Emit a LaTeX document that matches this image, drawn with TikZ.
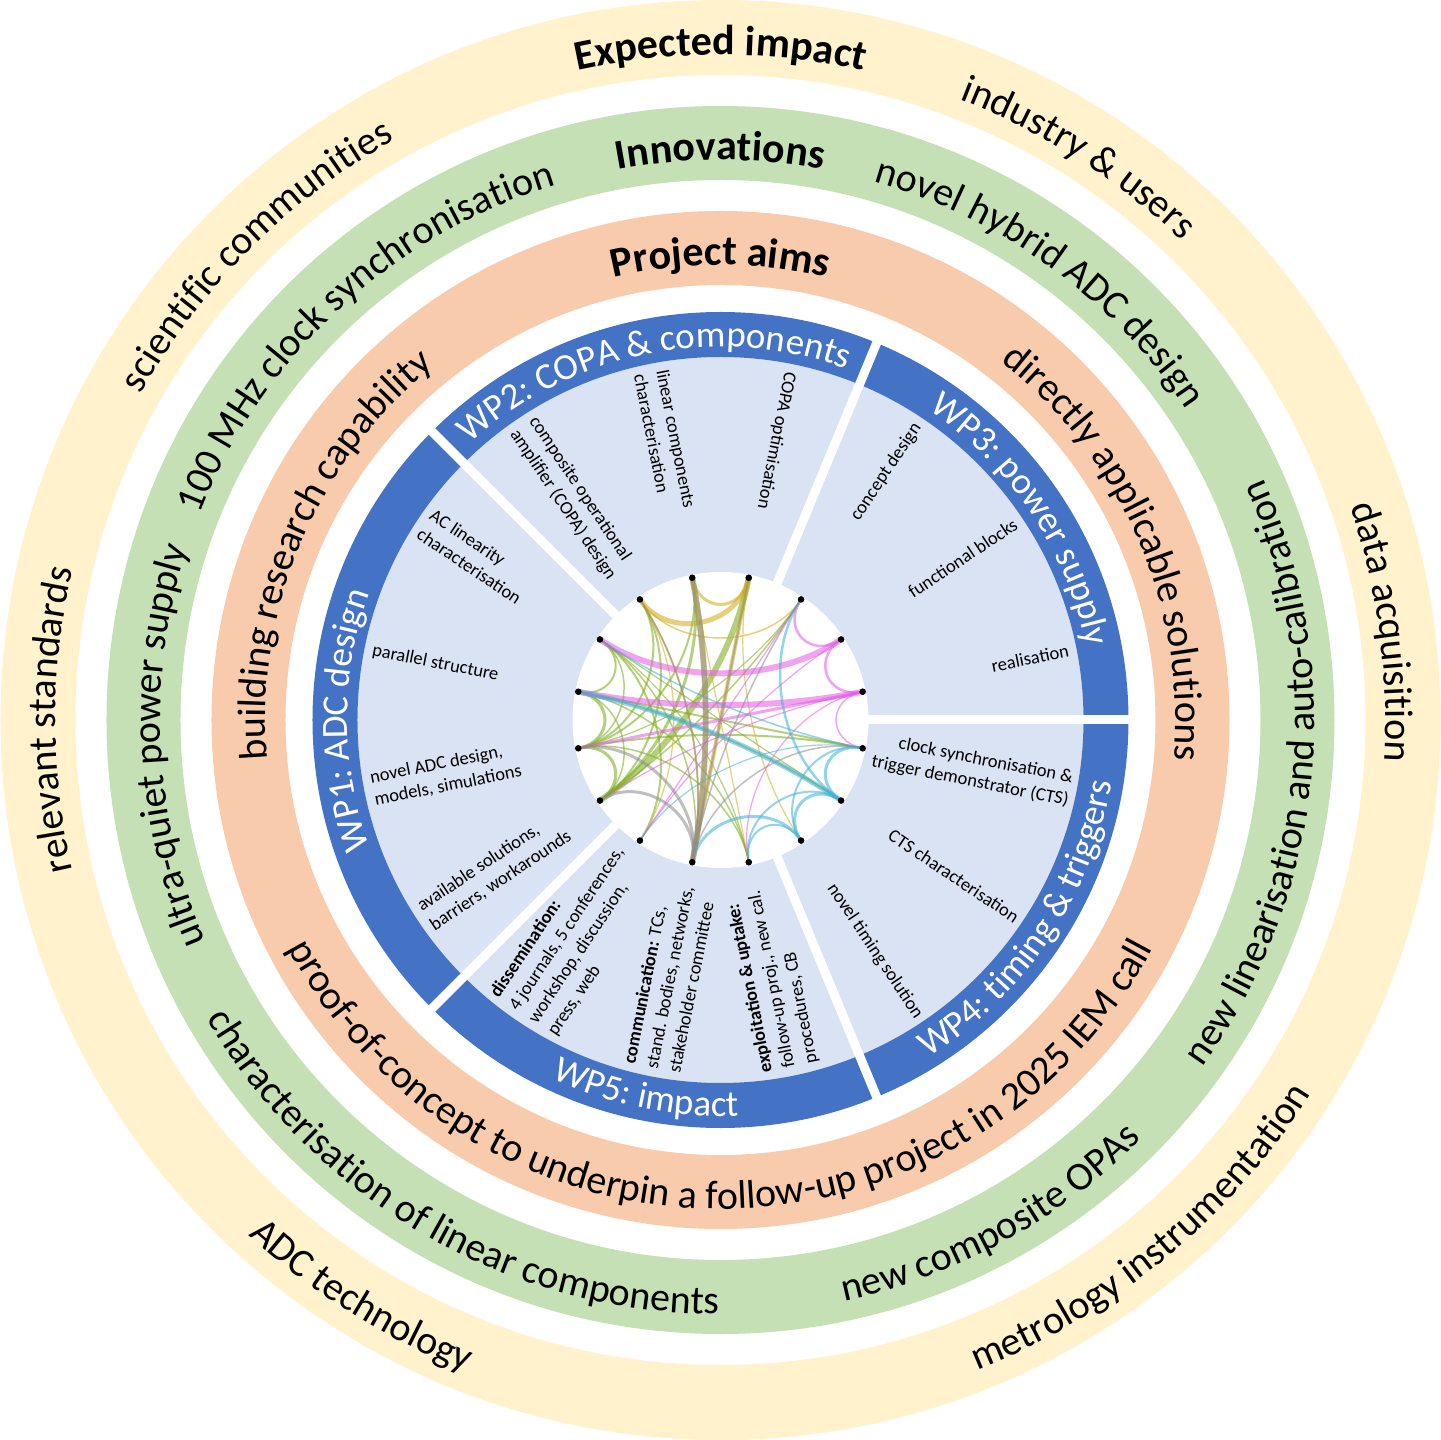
\documentclass[tikz,border=0pt]{standalone}
\usepackage{fontspec}
\setmainfont{Carlito}
\usetikzlibrary{decorations.text,calc}
\definecolor{cream}{HTML}{FFF2CC}
\definecolor{lgreen}{HTML}{C5E0B4}
\definecolor{salmon}{HTML}{F8CBAD}
\definecolor{wpblue}{HTML}{4472C4}
\definecolor{lblue}{HTML}{DAE3F3}
\definecolor{cG}{RGB}{122,170,20}
\definecolor{cY}{RGB}{210,170,20}
\definecolor{cM}{RGB}{228,90,228}
\definecolor{cC}{RGB}{60,178,222}
\definecolor{cK}{RGB}{140,140,140}
\newcommand\ringf{\fontsize{40}{48}\selectfont}
\newcommand\ringb{\fontsize{42}{50}\selectfont\bfseries}
\newcommand\wpf{\fontsize{37}{44}\selectfont}
\newcommand\labf{\fontsize{18.5}{23}\selectfont}
% clockwise text (tops outward): radius, mid angle, font, text, colour
\newcommand\cwtext[5]{\path[decorate,decoration={text along path,text align=center,text color=#5,text={|#3|#4}}] (#2+90:#1) arc[start angle=#2+90,end angle=#2-90,radius=#1];}
% counter-clockwise text (tops inward)
\newcommand\ccwtext[5]{\path[decorate,decoration={text along path,text align=center,text color=#5,text={|#3|#4}}] (#2-90:#1) arc[start angle=#2-90,end angle=#2+90,radius=#1];}
% angles of the chord end points
\newcommand\setang[2]{\expandafter\def\csname chang#1\endcsname{#2}}
\setang{A1}{146.25}\setang{A2}{168.75}\setang{A3}{191.25}\setang{A4}{213.75}
\setang{B1}{123.75}\setang{B2}{101.25}\setang{B3}{78.75}
\setang{C1}{56.25}\setang{C2}{33.75}\setang{C3}{11.25}
\setang{D1}{-11.25}\setang{D2}{-33.75}\setang{D3}{-56.25}
\setang{E1}{-78.75}\setang{E2}{-101.25}\setang{E3}{-123.75}
\newcommand\chord[4]{%
  \pgfmathsetmacro\cdiff{abs(\csname chang#1\endcsname-(\csname chang#2\endcsname))}%
  \pgfmathsetmacro\cdiff{min(\cdiff,360-\cdiff)}%
  \pgfmathsetmacro\ct{0.845-0.488*sin(\cdiff/2)}%
  \draw[#3,line width=#4,opacity=0.55] (#1) .. controls ($(O)!\ct!(#1)$) and ($(O)!\ct!(#2)$) .. (#2);}
\tikzset{
  lab/.style={font=\labf, inner sep=0pt, text=black},
  labin/.style={lab, anchor=west, align=left},
  labout/.style={lab, anchor=east, align=right},
  gapline/.style={white, line width=9pt},
  dot/.style={black}
}
\begin{document}
\begin{tikzpicture}[x=1pt,y=1pt]
\useasboundingbox (-720.5,-720) rectangle (720.5,720);
\fill[white] (-720.5,-720) rectangle (720.5,720);
\coordinate (O) at (0,0);
% rings
\draw[cream, line width=75pt] (O) circle (682.5);
\draw[lgreen, line width=74pt] (O) circle (577);
\draw[salmon, line width=74pt] (O) circle (472);
% work package sectors
\fill[lblue] (O) circle (363);
\draw[wpblue, line width=45pt] (O) circle (385.5);
\foreach \a in {135,67.5,0,-67.5,-135} \draw[gapline] (O) -- (\a:414);
\fill[white] (O) circle (148);
% ring texts: expected impact
\cwtext{665}{90}{\ringb}{Expected impact}{black}
\cwtext{665}{57.5}{\ringf}{industry {\&} users}{black}
\cwtext{665}{7.6}{\ringf}{data acquisition}{black}
\ccwtext{699}{-50.4}{\ringf}{metrology instrumentation}{black}
\ccwtext{699}{-121.9}{\ringf}{ADC technology}{black}
\cwtext{665}{180}{\ringf}{relevant standards}{black}
\cwtext{665}{135}{\ringf}{scientific communities}{black}
% innovations
\cwtext{560}{90}{\ringb}{Innovations}{black}
\cwtext{560}{53.9}{\ringf}{novel hybrid ADC design}{black}
\ccwtext{594}{-5.9}{\ringf}{new linearisation and auto-calibration}{black}
\ccwtext{594}{-61.4}{\ringf}{new composite OPAs}{black}
\ccwtext{594}{-120}{\ringf}{characterisation of linear components}{black}
\cwtext{560}{182.7}{\ringf}{ultra-quiet power supply}{black}
\cwtext{560}{132.8}{\ringf}{100 MHz clock synchronisation}{black}
% project aims
\cwtext{455}{90}{\ringb}{Project aims}{black}
\cwtext{455}{23.5}{\ringf}{directly applicable solutions}{black}
\ccwtext{489}{-90}{\ringf}{proof-of-concept to underpin a follow-up project in 2025 IEM call}{black}
\cwtext{455}{157}{\ringf}{building research capability}{black}
% WP titles
\cwtext{373}{180}{\wpf}{WP1: ADC design}{white}
\cwtext{373}{101.25}{\wpf}{WP2: COPA {\&} components}{white}
\cwtext{373}{33.75}{\wpf}{WP3: power supply}{white}
\ccwtext{396}{-33.75}{\wpf}{WP4: timing {\&} triggers}{white}
\ccwtext{396}{-101.25}{\wpf}{WP5: impact}{white}
% sub-labels
\node[labin, rotate=326.25] (lA1) at (146.25:355) {AC linearity\\characterisation};
\node[labin, rotate=348.75] (lA2) at (168.75:355) {parallel structure};
\node[labin, rotate=11.25] (lA3) at (191.25:355) {novel ADC design,\\models, simulations};
\node[labin, rotate=33.75] (lA4) at (213.75:355) {available solutions,\\barriers, workarounds};
\node[labin, rotate=303.75] (lB1) at (123.75:355) {composite operational\\amplifier (COPA) design};
\node[labin, rotate=281.25] (lB2) at (101.25:355) {linear components\\characterisation};
\node[labin, rotate=258.75] (lB3) at (78.75:355) {COPA optimisation};
\node[labout, rotate=56.25] (lC1) at (56.25:355) {concept design};
\node[labout, rotate=33.75] (lC2) at (33.75:355) {functional blocks};
\node[labout, rotate=11.25] (lC3) at (11.25:355) {realisation};
\node[labout, rotate=-11.25] (lD1) at (-11.25:357) {clock synchronisation \&\\trigger demonstrator (CTS)};
\node[labout, rotate=-33.75] (lD2) at (-33.75:357) {CTS characterisation};
\node[labout, rotate=-56.25] (lD3) at (-56.25:357) {novel timing solution};
\node[labin, rotate=56.25] (lE3) at (-123.75:355) {\textbf{dissemination:}\\4 journals, 5 conferences,\\workshop, discussion,\\press, web};
\node[labin, rotate=78.75] (lE2) at (-101.25:355) {\textbf{communication:} TCs,\\stand. bodies, networks,\\stakeholder committee};
\node[labin, rotate=101.25] (lE1) at (-78.75:355) {\textbf{exploitation \& uptake:}\\follow-up proj., new cal.\\procedures, CB};
% chord nodes
\foreach \n/\a in {A1/146.25,A2/168.75,A3/191.25,A4/213.75,B1/123.75,B2/101.25,B3/78.75,C1/56.25,C2/33.75,C3/11.25,D1/-11.25,D2/-33.75,D3/-56.25,E1/-78.75,E2/-101.25,E3/-123.75}
  \coordinate (\n) at (\a:145);
% green chords
\chord{A1}{A2}{cG}{2}
\chord{A2}{A3}{cG}{3}
\chord{A3}{A4}{cG}{3}
\chord{A1}{A3}{cG}{1.5}
\chord{A2}{A4}{cG}{1.5}
\chord{A1}{E3}{cG}{2}
\chord{A1}{E2}{cG}{1.5}
\chord{A1}{E1}{cG}{1.2}
\chord{A1}{D2}{cG}{1.2}
\chord{A2}{D1}{cG}{2}
\chord{A2}{D2}{cG}{2}
\chord{A2}{E1}{cG}{1.5}
\chord{A3}{D1}{cG}{2}
\chord{A3}{E1}{cG}{1.5}
\chord{A3}{B2}{cG}{2}
\chord{A3}{B1}{cG}{2}
\chord{A3}{C1}{cG}{1.2}
\chord{A4}{B3}{cG}{6}
\chord{A4}{B2}{cG}{3}
\chord{A4}{C1}{cG}{1.5}
\chord{A4}{B1}{cG}{2}
% gold chords
\chord{B1}{B3}{cY}{5}
\chord{B2}{B3}{cY}{3}
\chord{B1}{C1}{cY}{1.5}
\chord{B2}{E2}{cY}{5}
\chord{B3}{E2}{cY}{4}
\chord{B1}{E2}{cY}{2}
\chord{B3}{D3}{cY}{1.2}
\chord{B1}{E3}{cY}{1.2}
\chord{B2}{E1}{cY}{1.2}
% magenta chords
\chord{C1}{C2}{cM}{2.5}
\chord{C2}{C3}{cM}{2.5}
\chord{C3}{D1}{cM}{1.5}
\chord{C2}{A1}{cM}{6}
\chord{C3}{A2}{cM}{6}
\chord{C3}{A3}{cM}{3}
\chord{C3}{A4}{cM}{1.2}
\chord{C2}{E3}{cM}{1.2}
\chord{C3}{E1}{cM}{1.2}
\chord{C1}{E3}{cM}{1.2}
% cyan chords
\chord{D1}{D2}{cC}{3}
\chord{D2}{D3}{cC}{3}
\chord{D1}{D3}{cC}{2}
\chord{D2}{A2}{cC}{5}
\chord{D1}{A1}{cC}{1.5}
\chord{D2}{C1}{cC}{2.5}
\chord{D3}{E2}{cC}{3}
\chord{D3}{E1}{cC}{2}
\chord{D2}{E1}{cC}{2}
\chord{D1}{E3}{cC}{1.2}
% grey chords
\chord{E2}{B2}{cK}{6}
\chord{E2}{A4}{cK}{3}
\chord{E2}{A3}{cK}{3}
\chord{E2}{B1}{cK}{1.5}
\chord{E2}{C1}{cK}{1.5}
\chord{E2}{D1}{cK}{1.5}
\chord{E2}{B3}{cK}{2}
% dots
\foreach \n in {A1,A2,A3,A4,B1,B2,B3,C1,C2,C3,D1,D2,D3,E1,E2,E3}
  \fill[dot] (\n) circle (3.3);
\end{tikzpicture}
\end{document}
